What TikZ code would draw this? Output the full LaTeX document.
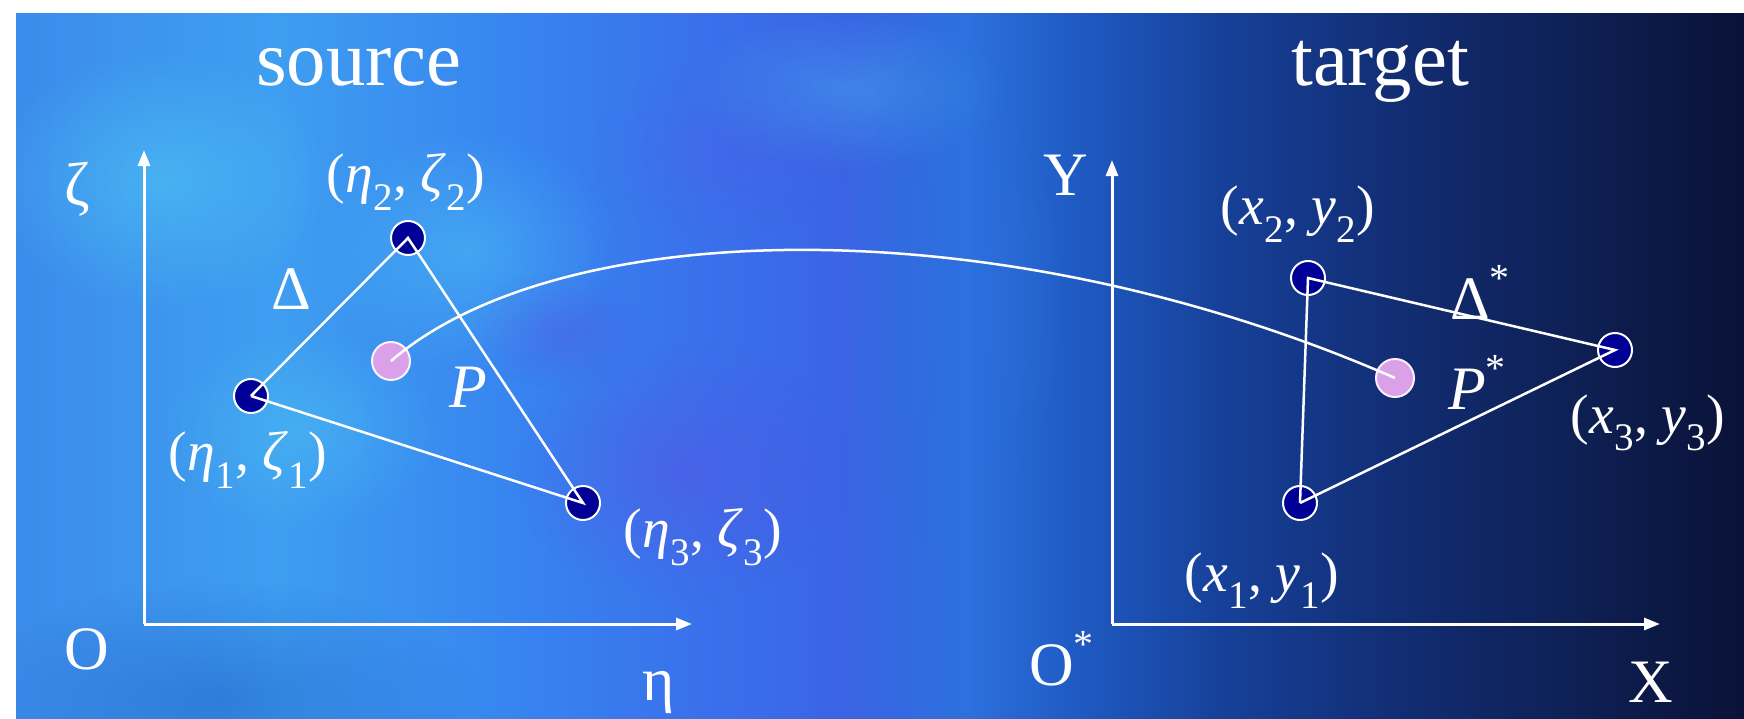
\documentclass[tikz,border=0pt]{standalone}
\usepackage{fontspec}
\setmainfont{Liberation Serif}
\usetikzlibrary{arrows.meta,fadings}
\definecolor{c0}{RGB}{60,140,235}
\definecolor{c1}{RGB}{62,158,240}
\definecolor{c2}{RGB}{55,130,240}
\definecolor{c3}{RGB}{58,112,235}
\definecolor{c4}{RGB}{58,100,228}
\definecolor{c5}{RGB}{45,112,222}
\definecolor{c6}{RGB}{30,88,192}
\definecolor{c7}{RGB}{22,64,152}
\definecolor{c8}{RGB}{18,45,115}
\definecolor{c9}{RGB}{14,32,85}
\definecolor{c10}{RGB}{10,18,55}
\definecolor{dotblue}{RGB}{0,0,150}
\definecolor{dotpink}{RGB}{218,160,232}
\definecolor{cyanhi}{RGB}{80,200,245}
\definecolor{violet}{RGB}{90,80,225}
\pgfdeclarehorizontalshading{bgshade}{100bp}{%
  color(0bp)=(c0); color(25bp)=(c0); color(28.75bp)=(c1); color(32.5bp)=(c2);
  color(35bp)=(c3); color(37bp)=(c4); color(38.75bp)=(c5); color(40.5bp)=(c6);
  color(42.5bp)=(c7); color(45bp)=(c8); color(47.5bp)=(c9); color(50bp)=(c10);
  color(100bp)=(c10)}
\tikzfading[name=fuzzy, inner color=transparent!0, outer color=transparent!100]
\tikzset{
  dot/.style={circle, draw=white, line width=2bp, fill=dotblue, minimum size=34bp, inner sep=0},
  pdot/.style={circle, draw=white!85!dotpink, line width=2bp, fill=dotpink, minimum size=38bp, inner sep=0},
  lab/.style={text=white, font=\fontsize{56}{60}\selectfont, inner sep=0},
  big/.style={text=white, font=\fontsize{62}{66}\selectfont, inner sep=0},
  title/.style={text=white, font=\fontsize{79}{84}\selectfont, inner sep=0},
  axis/.style={draw=white, line width=3bp, -{Triangle[length=16bp,width=12bp]}},
  edge/.style={draw=white, line width=2.5bp},
  blob/.style={path fading=fuzzy}
}
\newcommand\upstar{\raisebox{0.45em}{\fontsize{40}{40}\selectfont *}}
\begin{document}
\begin{tikzpicture}[x=1bp,y=-1bp]
\useasboundingbox (0,0) rectangle (1744,719);
\fill[white] (0,0) rectangle (1744,719);
\shade[shading=bgshade] (16,14) rectangle (1744+1744-16,719);
\fill[white] (1744,0) rectangle (3500,719);
\begin{scope}
\clip (16,14) rectangle (1744,719);
\fill[cyanhi, blob, opacity=0.55] (160,180) ellipse (170bp and 130bp);
\fill[cyanhi, blob, opacity=0.45] (470,250) ellipse (150bp and 120bp);
\fill[cyanhi, blob, opacity=0.4] (300,430) ellipse (140bp and 100bp);
\fill[cyanhi, blob, opacity=0.3] (850,90) ellipse (160bp and 80bp);
\fill[violet, blob, opacity=0.45] (680,470) ellipse (170bp and 130bp);
\fill[violet, blob, opacity=0.35] (560,330) ellipse (90bp and 60bp);
\fill[violet, blob, opacity=0.2] (720,150) ellipse (130bp and 90bp);
\fill[c6, blob, opacity=0.45] (220,700) ellipse (260bp and 120bp);
\fill[c5, blob, opacity=0.5] (960,300) ellipse (110bp and 260bp);
\end{scope}
% axes
\coordinate (O1) at (144,624);
\coordinate (Ztop) at (144,150);
\coordinate (Eend) at (692,624);
\coordinate (O2) at (1112,624);
\coordinate (Ytop) at (1112,160);
\coordinate (Xend) at (1660,624);
\draw[axis] (O1) -- (Ztop);
\draw[axis] (O1) -- (Eend);
\draw[axis] (O2) -- (Ytop);
\draw[axis] (O2) -- (Xend);
% titles and axis labels
\node[title, anchor=base] (src) at (359,86) {source};
\node[title, anchor=base] (tgt) at (1380,86) {target};
\node[big] (zl) at (77,189) {ζ};
\node[big, anchor=base] (el) at (659,700) {η};
\node[big, anchor=base west] (ol) at (64,669) {O};
\node[big, anchor=base] (yl) at (1066,195) {Y};
\node[big, anchor=base west] (o2l) at (1029,685) {O\upstar};
\node[big, anchor=base] (xl) at (1651,702) {X};
% points
\node[dot] (a1) at (251,396) {};
\node[dot] (a2) at (408,238) {};
\node[dot] (a3) at (583,503) {};
\node[pdot] (p) at (391,361) {};
\node[dot] (b1) at (1300,503) {};
\node[dot] (b2) at (1308,278) {};
\node[dot] (b3) at (1615,350) {};
\node[pdot] (ps) at (1395,378) {};
% triangles
\draw[edge] (a1.center) -- (a2.center) -- (a3.center) -- (a1.center);
\draw[edge] (b1.center) -- (b2.center) -- (b3.center) -- (b1.center);
% mapping curve
\draw[edge] (p.center) .. controls (560,215) and (1000,205) .. (ps.center);
% labels
\node[big, anchor=base] (dl) at (291,309) {Δ};
\node[big, anchor=base] (pl) at (468,407) {\textit{P}};
\node[big, anchor=base west] (dsl) at (1450,319) {Δ\upstar};
\node[big, anchor=base west] (psl) at (1448,409) {\textit{P}\upstar};
\node[lab] (l2) at (406,182) {(\textit{η}\textsubscript{2}, \textit{ζ}\textsubscript{2})};
\node[lab] (l1) at (248,460) {(\textit{η}\textsubscript{1}, \textit{ζ}\textsubscript{1})};
\node[lab] (l3) at (703,537) {(\textit{η}\textsubscript{3}, \textit{ζ}\textsubscript{3})};
\node[lab] (m2) at (1298,214) {(\textit{x}\textsubscript{2}, \textit{y}\textsubscript{2})};
\node[lab] (m3) at (1648,423) {(\textit{x}\textsubscript{3}, \textit{y}\textsubscript{3})};
\node[lab] (m1) at (1262,581) {(\textit{x}\textsubscript{1}, \textit{y}\textsubscript{1})};
\end{tikzpicture}
\end{document}
